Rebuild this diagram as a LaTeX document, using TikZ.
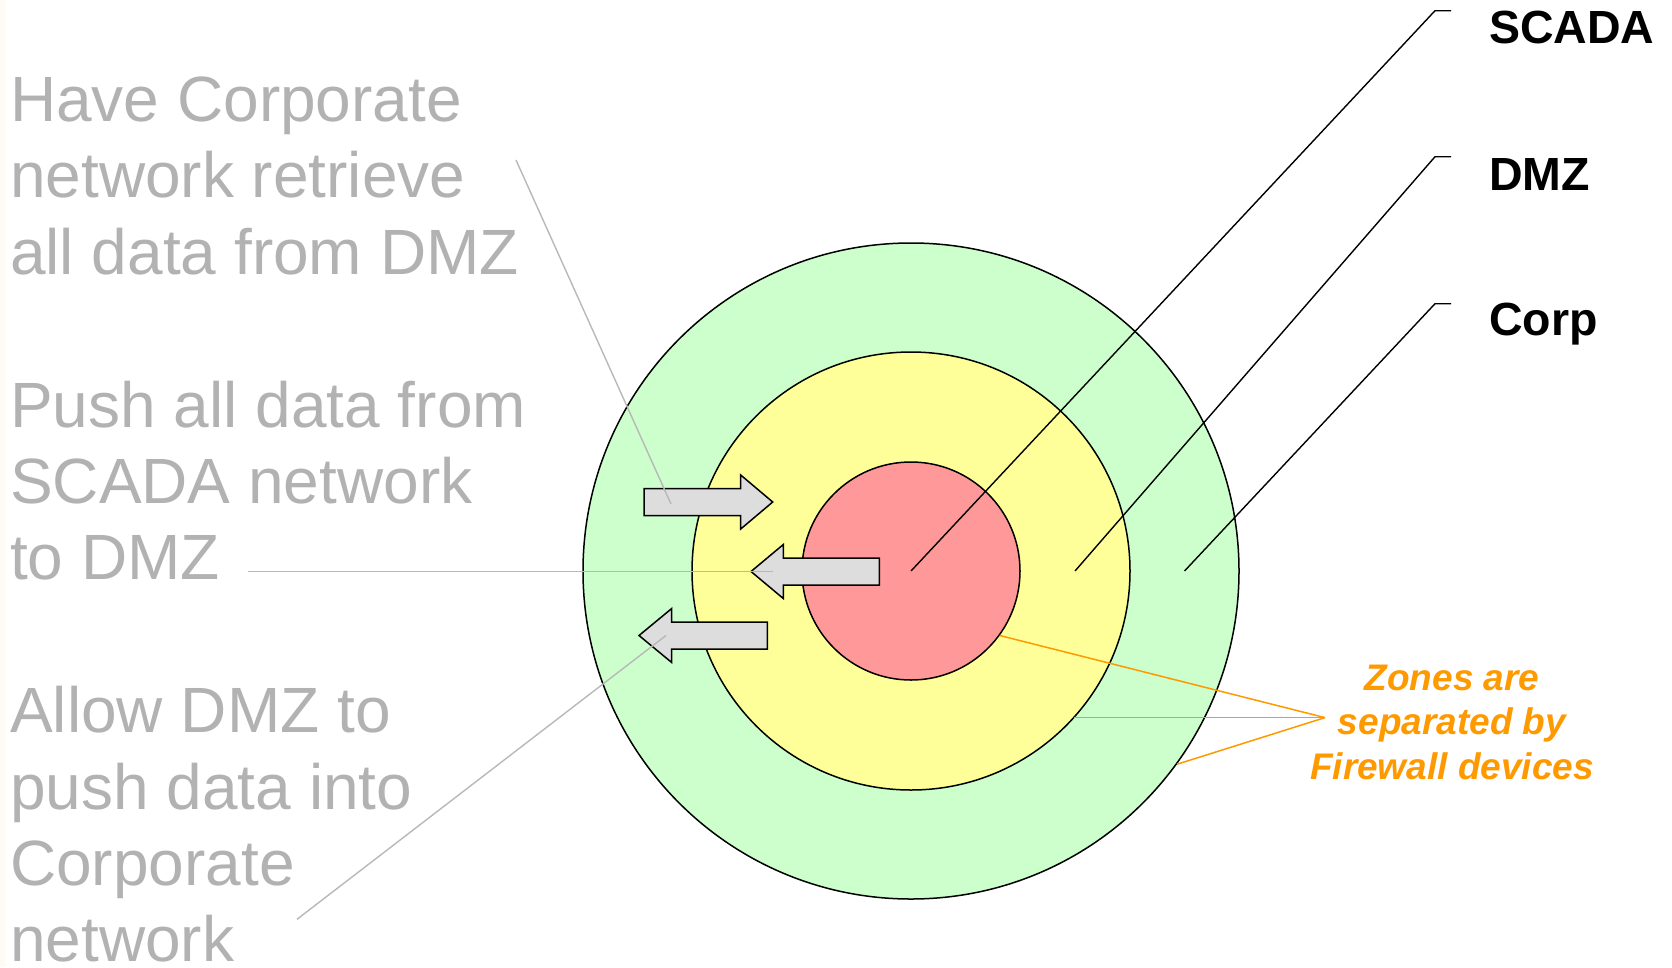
\documentclass[tikz,border=0pt]{standalone}
\usepackage{fontspec}
\setmainfont{Liberation Sans}
\definecolor{corpgreen}{HTML}{CCFFCC}
\definecolor{dmzyellow}{HTML}{FFFF99}
\definecolor{scadared}{HTML}{FF9999}
\definecolor{greytext}{HTML}{B2B2B2}
\definecolor{greyline}{HTML}{B8B8B8}
\definecolor{fworange}{HTML}{FF9900}
\definecolor{arrowfill}{HTML}{DDDDDD}
\definecolor{stripcol}{HTML}{FEFAF5}
\tikzset{
  zone/.style={circle, draw=black, line width=1.5pt, inner sep=0pt},
  blockarrow/.style={draw=black, fill=arrowfill, line width=1.5pt, line join=miter},
  leader/.style={draw=black, line width=1.4pt},
  greylead/.style={draw=greyline, line width=1.4pt},
  fwline/.style={draw=fworange, line width=1.5pt},
  note/.style={text=greytext, font=\fontsize{64}{76.4}\selectfont, align=left, inner sep=0pt, anchor=base west},
  zonelabel/.style={font=\fontsize{46.5}{55}\selectfont\bfseries, inner sep=0pt, anchor=base west},
  fwtext/.style={text=fworange, font=\fontsize{37}{44.7}\selectfont\bfseries\itshape, align=center, inner sep=0pt, anchor=base}
}
\begin{document}
\begin{tikzpicture}[x=1pt,y=-1pt]
\useasboundingbox (0,0) rectangle (1672,967);
\fill[stripcol] (0,0) rectangle (5,967);

% zones
\node[zone, fill=corpgreen, minimum size=656pt] (corp) at (911,571) {};
\node[zone, fill=dmzyellow, minimum size=438pt] (dmz) at (911,571) {};
\node[zone, fill=scadared, minimum size=218pt] (scada) at (911,571) {};

% block arrows
\draw[blockarrow] (644,488.5) -- (740.7,488.5) -- (740.7,475) -- (772.7,502) -- (740.7,529) -- (740.7,515.5) -- (644,515.5) -- cycle;
\draw[blockarrow] (879.3,558) -- (783.3,558) -- (783.3,544.5) -- (751,571.5) -- (783.3,598.5) -- (783.3,585) -- (879.3,585) -- cycle;
\draw[blockarrow] (767.3,622) -- (671.7,622) -- (671.7,608.5) -- (639,635.5) -- (671.7,662.5) -- (671.7,649) -- (767.3,649) -- cycle;

% zone labels and leaders
\node[zonelabel] (lscada) at (1489,43.3) {SCADA};
\node[zonelabel] (ldmz) at (1489,190) {DMZ};
\node[zonelabel] (lcorp) at (1489,335) {Corp};
\coordinate (dmzp) at (1075,571);
\coordinate (corpp) at (1184.5,571);
\coordinate (kscada) at (1435,10.7);
\coordinate (escada) at (1451,10.7);
\coordinate (kdmz) at (1435,156.7);
\coordinate (edmz) at (1451,156.7);
\coordinate (kcorp) at (1435,303.7);
\coordinate (ecorp) at (1451,303.7);
\draw[leader] (scada.center) -- (kscada) -- (escada);
\draw[leader] (dmzp) -- (kdmz) -- (edmz);
\draw[leader] (corpp) -- (kcorp) -- (ecorp);

% firewall note
\node[fwtext] (fw) at (1452,779.5) {Zones are\\separated by\\Firewall devices};
\coordinate (fwp) at (1325,717.6);
\coordinate (fwmid) at (1073.7,717.6);
\draw[fwline] (fwp) -- (scada.-36.3);
\draw[fwline] (fwp) -- (fwmid);
\draw[fwline] (fwp) -- (corp.-36.1);

% grey notes
\node[note] (t1) at (10,274.3) {Have Corporate\\network retrieve\\all data from DMZ};
\node[note] (t2) at (10,579.9) {Push all data from\\SCADA network\\to DMZ};
\node[note] (t3) at (10,961.9) {Allow DMZ to\\push data into\\Corporate\\network};

\coordinate (g1a) at (516,160);
\coordinate (g1b) at (671,504);
\coordinate (g2a) at (248,571.5);
\coordinate (g2b) at (773,571.5);
\coordinate (g3a) at (297,919.3);
\coordinate (g3b) at (666,635.5);
\draw[greylead] (g1a) -- (g1b);
\draw[greylead] (g2a) -- (g2b);
\draw[greylead] (g3a) -- (g3b);
\end{tikzpicture}
\end{document}
